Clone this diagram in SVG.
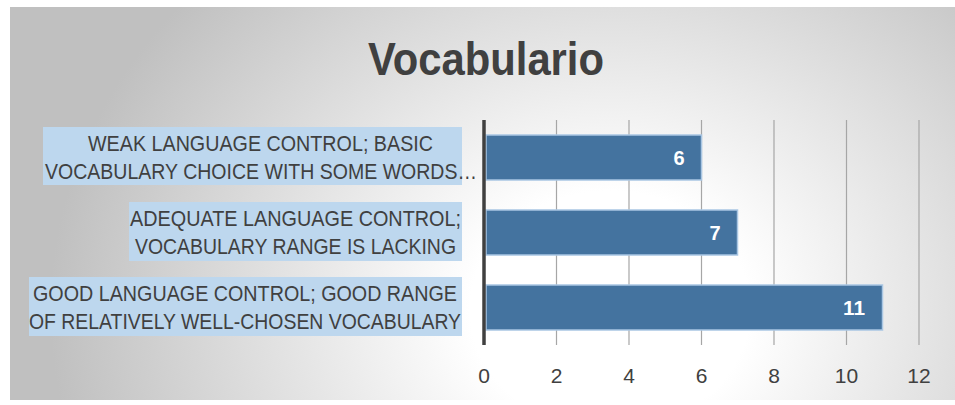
<svg xmlns="http://www.w3.org/2000/svg" width="955" height="405" viewBox="0 0 955 405">
<defs>
<radialGradient id="bg" gradientUnits="userSpaceOnUse" cx="610" cy="310" r="560" gradientTransform="translate(610 310) scale(1 0.85) translate(-610 -310)">
<stop offset="0" stop-color="#ffffff"/>
<stop offset="0.25" stop-color="#ffffff"/>
<stop offset="1" stop-color="#c0c0c0"/>
</radialGradient>
<style>
.lbl{font-family:"Liberation Sans",Arial,sans-serif;font-size:22px;fill:#404040}
.tick{font-family:"Liberation Sans",Arial,sans-serif;font-size:21px;fill:#404040;text-anchor:middle}
.val{font-family:"Liberation Sans",Arial,sans-serif;font-size:20px;font-weight:bold;fill:#ffffff;text-anchor:middle}
.bar{fill:#44739f;stroke:#a9c6e3;stroke-width:1.5}
.grid{stroke:#a6a6a6;stroke-width:1.2}
.hl{fill:#bdd7ee}
</style>
</defs>
<rect x="0" y="0" width="955" height="405" fill="#ffffff"/>
<rect x="10" y="7" width="945" height="393" fill="url(#bg)"/>
<text x="486" y="75" font-family="'Liberation Sans',Arial,sans-serif" font-size="46" font-weight="bold" fill="#404040" text-anchor="middle" textLength="236" lengthAdjust="spacingAndGlyphs">Vocabulario</text>
<g id="gridlines">
<line class="grid" x1="556.5" y1="120" x2="556.5" y2="345"/>
<line class="grid" x1="629" y1="120" x2="629" y2="345"/>
<line class="grid" x1="701.5" y1="120" x2="701.5" y2="345"/>
<line class="grid" x1="774" y1="120" x2="774" y2="345"/>
<line class="grid" x1="846.5" y1="120" x2="846.5" y2="345"/>
<line class="grid" x1="919" y1="120" x2="919" y2="345"/>
</g>
<g id="cat1">
<rect class="hl" x="43" y="127" width="419" height="58"/>
<text class="lbl" x="88" y="151" textLength="345" lengthAdjust="spacingAndGlyphs">WEAK LANGUAGE CONTROL; BASIC</text>
<text class="lbl" x="45" y="179" textLength="432" lengthAdjust="spacingAndGlyphs">VOCABULARY CHOICE WITH SOME WORDS…</text>
</g>
<g id="cat2">
<rect class="hl" x="129" y="202" width="333" height="59"/>
<text class="lbl" x="130" y="226" textLength="331" lengthAdjust="spacingAndGlyphs">ADEQUATE LANGUAGE CONTROL;</text>
<text class="lbl" x="135" y="254" textLength="321" lengthAdjust="spacingAndGlyphs">VOCABULARY RANGE IS LACKING</text>
</g>
<g id="cat3">
<rect class="hl" x="29" y="277" width="433" height="59"/>
<text class="lbl" x="33" y="301" textLength="424" lengthAdjust="spacingAndGlyphs">GOOD LANGUAGE CONTROL; GOOD RANGE</text>
<text class="lbl" x="29" y="329" textLength="432" lengthAdjust="spacingAndGlyphs">OF RELATIVELY WELL-CHOSEN VOCABULARY</text>
</g>
<g id="bar1">
<rect class="bar" x="486" y="135" width="215.5" height="45"/>
<text class="val" x="679" y="165">6</text>
</g>
<g id="bar2">
<rect class="bar" x="486" y="210" width="251.5" height="45"/>
<text class="val" x="715" y="240">7</text>
</g>
<g id="bar3">
<rect class="bar" x="486" y="285" width="396.5" height="45"/>
<text class="val" x="854" y="315" textLength="22" lengthAdjust="spacingAndGlyphs">11</text>
</g>
<line id="axis" x1="484" y1="120" x2="484" y2="345" stroke="#404040" stroke-width="3.5"/>
<g id="ticklabels">
<text class="tick" x="484" y="383">0</text>
<text class="tick" x="556.5" y="383">2</text>
<text class="tick" x="629" y="383">4</text>
<text class="tick" x="701.5" y="383">6</text>
<text class="tick" x="774" y="383">8</text>
<text class="tick" x="846.5" y="383">10</text>
<text class="tick" x="919" y="383">12</text>
</g>
</svg>
